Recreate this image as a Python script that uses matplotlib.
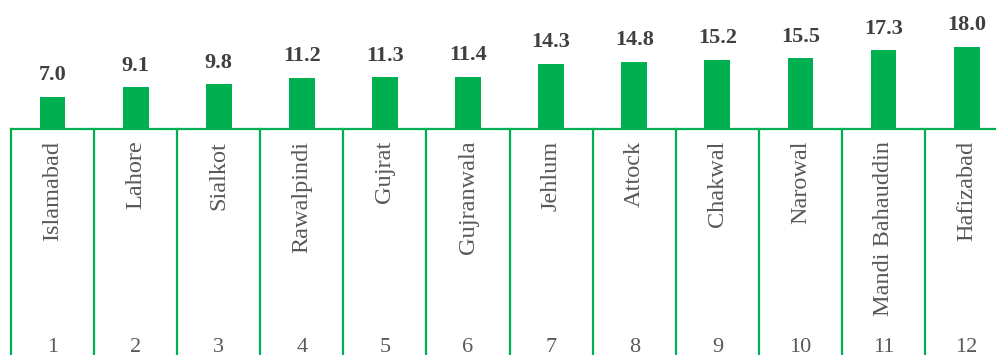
import matplotlib.pyplot as plt

districts = ['Islamabad', 'Lahore', 'Sialkot', 'Rawalpindi', 'Gujrat', 'Gujranwala',
             'Jehlum', 'Attock', 'Chakwal', 'Narowal', 'Mandi Bahauddin', 'Hafizabad']
ranks = ['1', '2', '3', '4', '5', '6', '7', '8', '9', '10', '11', '12']
values = [7.0, 9.1, 9.8, 11.2, 11.3, 11.4, 14.3, 14.8, 15.2, 15.5, 17.3, 18.0]

green = '#00B050'
plt.rcParams['font.family'] = ['Liberation Serif', 'DejaVu Serif']

fig = plt.figure(figsize=(9.96, 3.55), dpi=100)
ax = fig.add_axes([0, 0, 1, 1])
ax.set_xlim(-0.632, 11.353)
ax.set_ylim(-50.1, 28.43)
ax.axis('off')

x = list(range(len(values)))
bars = ax.bar(x, values, width=0.31, color=green, zorder=2)

for xi, v in zip(x, values):
    ax.annotate(f'{v:.1f}', (xi, v), xytext=(0, 12), textcoords='offset points',
                ha='center', va='baseline', fontsize=16, fontweight='bold',
                color='#404040')

# table-like frame under the bars
ax.axhline(0, xmin=0.011, xmax=1, color=green, lw=1.6, zorder=3)
for i in range(len(values) + 1):
    ax.plot([i - 0.5, i - 0.5], [-60, 0], color=green, lw=1.6, zorder=3)

for xi, name, r in zip(x, districts, ranks):
    ax.text(xi, -2.7, name, rotation=90, ha='center', va='top',
            fontsize=17.5, color='#595959')
    ax.text(xi, -48.4, r, ha='center', va='center', fontsize=16, color='#595959')

fig.savefig('out.png', dpi=100)
